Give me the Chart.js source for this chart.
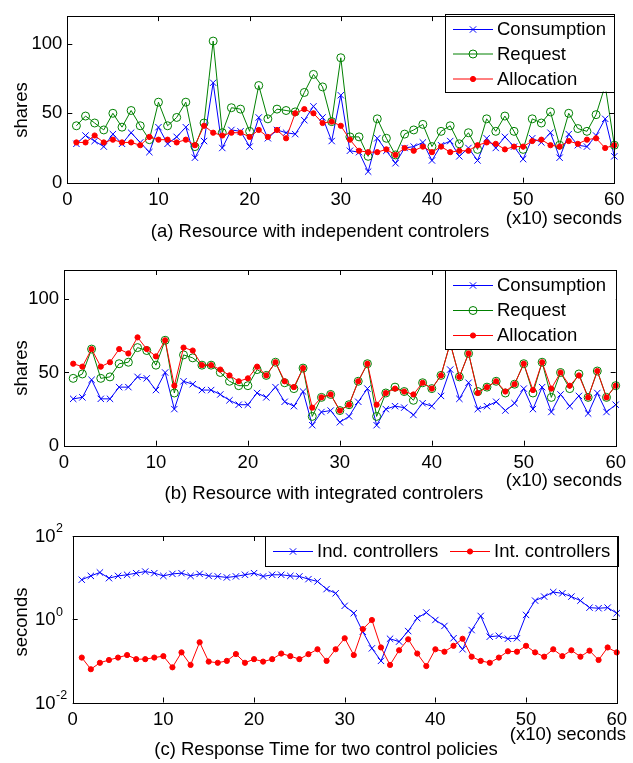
<!DOCTYPE html>
<html>
<head>
<meta charset="utf-8">
<script src="https://cdn.jsdelivr.net/npm/chart.js@4.4.1/dist/chart.umd.min.js"></script>
<style>
  body { margin: 0; background: #fff; width: 633px; height: 763px; position: relative; overflow: hidden;
         font-family: "Liberation Sans", Arial, sans-serif; color: #000; }
  canvas { position: absolute; left: 0; }
  .t { position: absolute; font-size: 18.5px; line-height: 1; white-space: nowrap; }
  .yl { transform: translate(-50%, -50%) rotate(-90deg); }
  .cap { transform: translateX(-50%); }
</style>
</head>
<body>
<canvas id="chartA" width="633" height="245" style="top:0px"></canvas>
<canvas id="chartB" width="633" height="260" style="top:245px"></canvas>
<canvas id="chartC" width="633" height="258" style="top:505px"></canvas>

<div class="t yl" style="left:21px; top:110px">shares</div>
<div class="t" style="right:11px; top:209px">(x10) seconds</div>
<div class="t cap" style="left:320px; top:222px">(a) Resource with independent controlers</div>

<div class="t yl" style="left:21px; top:368px">shares</div>
<div class="t" style="right:11px; top:471px">(x10) seconds</div>
<div class="t cap" style="left:324px; top:484px">(b) Resource with integrated controlers</div>

<div class="t yl" style="left:21px; top:622px">seconds</div>
<div class="t" style="right:7px; top:725px">(x10) seconds</div>
<div class="t cap" style="left:326px; top:740px">(c) Response Time for two control policies</div>

<script>
const TIME = [1,2,3,4,5,6,7,8,9,10,11,12,13,14,15,16,17,18,19,20,21,22,23,24,25,26,27,28,29,30,
              31,32,33,34,35,36,37,38,39,40,41,42,43,44,45,46,47,48,49,50,51,52,53,54,55,56,57,58,59,60];
const X_TICKS = [0, 10, 20, 30, 40, 50, 60];
const SHARE_TICKS = [0, 50, 100];
const LOG_TICKS = [0.01, 1, 100];

// (a) independent controllers
const A_CONSUMPTION = [28,34,30,26,35,28,36,29,22,40,28,33,40,18,30,72,25,38,37,26,47,32,38,36,35,45,55,47,30,63,
                       23,22,8,32,23,14,25,26,29,16,27,30,19,25,16,32,25,33,26,17,32,29,36,18,35,27,26,34,46,19];
const A_REQUEST = [41,48,43,38,50,40,52,41,31,58,41,47,58,26,43,102,36,54,53,37,70,46,53,52,51,65,78,69,44,90,
                   33,33,19,46,32,20,35,38,42,26,37,41,28,36,24,46,37,48,37,24,46,43,51,27,50,39,37,49,70,27];
const A_ALLOCATION = [29,29,34,29,31,29,29,27,33,31,31,29,31,27,41,36,34,36,36,33,38,33,38,32,50,53,50,43,44,41,
                      31,23,22,22,24,20,25,23,26,22,26,22,23,23,27,29,28,24,26,26,30,31,27,26,30,28,31,32,25,27];

// (b) integrated controllers
const B_CONSUMPTION = [32,33,45,32,32,40,40,47,46,38,50,25,44,42,38,38,35,31,28,28,36,33,40,30,27,37,14,23,24,16,
                       20,30,39,14,25,27,26,21,29,27,34,52,32,43,25,27,30,24,29,39,25,40,23,35,27,34,22,36,23,28];
const B_REQUEST = [46,49,66,46,47,56,57,67,65,55,72,36,62,60,55,55,50,44,41,41,52,48,57,43,39,53,20,33,35,24,
                   28,44,56,20,36,40,37,31,43,39,48,70,47,63,37,40,44,36,42,56,36,57,33,50,39,49,33,51,33,41];
const B_ALLOCATION = [56,54,66,54,57,66,63,74,66,61,72,41,67,65,55,55,52,48,44,46,54,48,57,44,40,53,26,33,35,24,
                      28,44,56,28,36,39,37,35,43,39,48,70,47,63,36,40,44,37,42,56,38,57,39,50,41,48,33,51,33,41];

// (c) response time, seconds
const C_IND = [8.9,11,13.3,9.7,11,11.7,12.8,14,12.8,11,12.3,12.8,11,12.3,11,10.7,10.1,10.7,11.7,12.8,
               10.7,11.7,11.7,11,10.7,9.2,8.1,5.3,4.2,2.1,1.4,0.5,0.2,0.1,0.34,0.29,0.52,1.06,1.45,0.96,
               0.69,0.35,0.19,0.55,1.2,0.38,0.4,0.34,0.35,1.27,2.8,3.5,4.5,4.2,3.5,2.8,1.9,1.84,1.9,1.4];
const C_INT = [0.12,0.063,0.09,0.105,0.12,0.138,0.11,0.11,0.12,0.13,0.07,0.16,0.08,0.28,0.096,0.09,0.1,0.146,0.09,0.11,
               0.096,0.11,0.15,0.13,0.11,0.145,0.19,0.1,0.19,0.35,0.138,0.58,0.96,0.21,0.08,0.18,0.33,0.15,0.075,0.19,
               0.166,0.23,0.34,0.126,0.1,0.09,0.12,0.17,0.166,0.23,0.16,0.126,0.19,0.13,0.18,0.126,0.176,0.105,0.21,0.16];

const BLUE = '#0000ff', GREEN = '#008000', RED = '#ff0000';
const FONT = { family: "'Liberation Sans', Arial, sans-serif", size: 18.5 };

const pts = vals => TIME.map((t, i) => ({ x: t, y: vals[i] }));

const styles = {
  cross:  { borderColor: BLUE,  pointStyle: 'crossRot', pointRadius: 4.5, pointBorderWidth: 1, pointBackgroundColor: BLUE },
  circle: { borderColor: GREEN, pointStyle: 'circle', pointRadius: 4, pointBorderWidth: 1, pointBackgroundColor: 'rgba(0,0,0,0)' },
  dot:    { borderColor: RED,   pointStyle: 'circle', pointRadius: 2.6, pointBorderWidth: 1, pointBackgroundColor: RED }
};

function series(label, vals, kind, order) {
  return Object.assign({ label, data: pts(vals), borderWidth: 1, tension: 0, order, clip: 8, marker: kind }, styles[kind]);
}

function drawMarker(ctx, kind, x, y) {
  const s = styles[kind];
  ctx.save();
  ctx.lineWidth = 1;
  ctx.strokeStyle = s.borderColor;
  ctx.fillStyle = s.pointBackgroundColor;
  ctx.beginPath();
  if (kind === 'cross') {
    const d = s.pointRadius * Math.SQRT1_2;
    ctx.moveTo(x - d, y - d); ctx.lineTo(x + d, y + d);
    ctx.moveTo(x - d, y + d); ctx.lineTo(x + d, y - d);
    ctx.stroke();
  } else {
    ctx.arc(x, y, s.pointRadius, 0, Math.PI * 2);
    ctx.fill(); ctx.stroke();
  }
  ctx.restore();
}

// inward tick marks, legend box and axes frame, matlab style
const framePlugin = {
  id: 'frame',
  afterDatasetsDraw(chart, args, opts) {
    const { ctx, chartArea: a, scales } = chart;
    const tl = 5;
    ctx.save();
    ctx.strokeStyle = '#000';
    ctx.lineWidth = 1;
    ctx.beginPath();
    scales.x.ticks.forEach(t => {
      const px = Math.round(scales.x.getPixelForValue(t.value)) + 0.5;
      ctx.moveTo(px, a.bottom); ctx.lineTo(px, a.bottom - tl);
      ctx.moveTo(px, a.top); ctx.lineTo(px, a.top + tl);
    });
    scales.y.ticks.forEach(t => {
      const py = Math.round(scales.y.getPixelForValue(t.value)) + 0.5;
      ctx.moveTo(a.left, py); ctx.lineTo(a.left + tl, py);
      ctx.moveTo(a.right, py); ctx.lineTo(a.right - tl, py);
    });
    ctx.stroke();

    // legend
    const L = opts.legend;
    ctx.fillStyle = '#fff';
    ctx.fillRect(L.box[0], L.box[1], L.box[2] - L.box[0], L.box[3] - L.box[1]);
    ctx.strokeRect(Math.round(L.box[0]) + 0.5, Math.round(L.box[1]) + 0.5,
                   Math.round(L.box[2] - L.box[0]), Math.round(L.box[3] - L.box[1]));
    ctx.font = `${FONT.size}px ${FONT.family}`;
    ctx.textBaseline = 'middle';
    L.items.forEach(it => {
      const ds = chart.data.datasets[it.ds];
      ctx.strokeStyle = ds.borderColor;
      ctx.beginPath();
      ctx.moveTo(it.x, it.y + 0.5); ctx.lineTo(it.x + 40, it.y + 0.5);
      ctx.stroke();
      drawMarker(ctx, ds.marker, it.x + 20, it.y + 0.5);
      ctx.fillStyle = '#000';
      ctx.fillText(ds.label, it.x + 44, it.y + 1);
    });

    // log axis labels as 10 with exponent
    if (opts.powerLabels) {
      ctx.fillStyle = '#000';
      scales.y.ticks.forEach(t => {
        const py = scales.y.getPixelForValue(t.value);
        const e = Math.round(Math.log10(t.value));
        ctx.font = `${FONT.size}px ${FONT.family}`;
        ctx.textAlign = 'left';
        ctx.textBaseline = 'middle';
        ctx.fillText('10', 35, py + 1);
        const w = ctx.measureText('10').width;
        ctx.font = `12.5px ${FONT.family}`;
        ctx.fillText(String(e), 35 + w + 0.5, py - 7);
      });
    }

    ctx.strokeStyle = '#000';
    ctx.strokeRect(Math.round(a.left) + 0.5, Math.round(a.top) + 0.5,
                   Math.round(a.right - a.left), Math.round(a.bottom - a.top));
    ctx.restore();
  }
};

function axisX(pad) {
  return {
    type: 'linear', min: 0, max: 60,
    afterBuildTicks: s => { s.ticks = X_TICKS.map(v => ({ value: v })); },
    afterFit: s => { s.height = 30; },
    ticks: { font: FONT, color: '#000', padding: pad, maxRotation: 0 },
    grid: { display: false, drawTicks: false },
    border: { display: false }
  };
}

function axisShares(width) {
  return {
    min: 0, max: 120,
    afterBuildTicks: s => { s.ticks = SHARE_TICKS.map(v => ({ value: v })); },
    afterFit: s => { s.width = width; },
    ticks: { font: FONT, color: '#000', padding: 5 },
    grid: { display: false, drawTicks: false },
    border: { display: false }
  };
}

function baseOptions(padding, scales, frame) {
  return {
    responsive: false,
    animation: false,
    events: [],
    layout: { padding },
    scales,
    plugins: { legend: { display: false }, tooltip: { enabled: false }, frame }
  };
}

new Chart(document.getElementById('chartA'), {
  type: 'line',
  data: { datasets: [
    series('Consumption', A_CONSUMPTION, 'cross', 2),
    series('Request', A_REQUEST, 'circle', 1),
    series('Allocation', A_ALLOCATION, 'dot', 0)
  ] },
  options: baseOptions({ left: 0, right: 18.7, top: 14, bottom: 32.3 },
    { x: axisX(6), y: axisShares(67.3) },
    { legend: { box: [445, 14, 614.3, 91.5], items: [
        { ds: 0, x: 453, y: 29 }, { ds: 1, x: 453, y: 53.5 }, { ds: 2, x: 453, y: 78.5 } ] } }),
  plugins: [framePlugin]
});

new Chart(document.getElementById('chartB'), {
  type: 'line',
  data: { datasets: [
    series('Consumption', B_CONSUMPTION, 'cross', 2),
    series('Request', B_REQUEST, 'circle', 1),
    series('Allocation', B_ALLOCATION, 'dot', 0)
  ] },
  options: baseOptions({ left: 0, right: 17.3, top: 25, bottom: 29.3 },
    { x: axisX(6), y: axisShares(64) },
    { legend: { box: [445, 25, 615.7, 104], items: [
        { ds: 0, x: 453, y: 40 }, { ds: 1, x: 453, y: 65 }, { ds: 2, x: 453, y: 90 } ] } }),
  plugins: [framePlugin]
});

new Chart(document.getElementById('chartC'), {
  type: 'line',
  data: { datasets: [
    series('Ind. controllers', C_IND, 'cross', 1),
    series('Int. controllers', C_INT, 'dot', 0)
  ] },
  options: baseOptions({ left: 0, right: 15.5, top: 31, bottom: 30.5 },
    { x: axisX(6),
      y: { type: 'logarithmic', min: 0.01, max: 100,
           afterBuildTicks: s => { s.ticks = LOG_TICKS.map(v => ({ value: v })); },
           afterFit: s => { s.width = 72.7; },
           ticks: { display: false },
           grid: { display: false, drawTicks: false },
           border: { display: false } } },
    { powerLabels: true,
      legend: { box: [265, 31, 617.5, 61], items: [
        { ds: 0, x: 273, y: 46 }, { ds: 1, x: 450, y: 46 } ] } }),
  plugins: [framePlugin]
});
</script>
</body>
</html>
